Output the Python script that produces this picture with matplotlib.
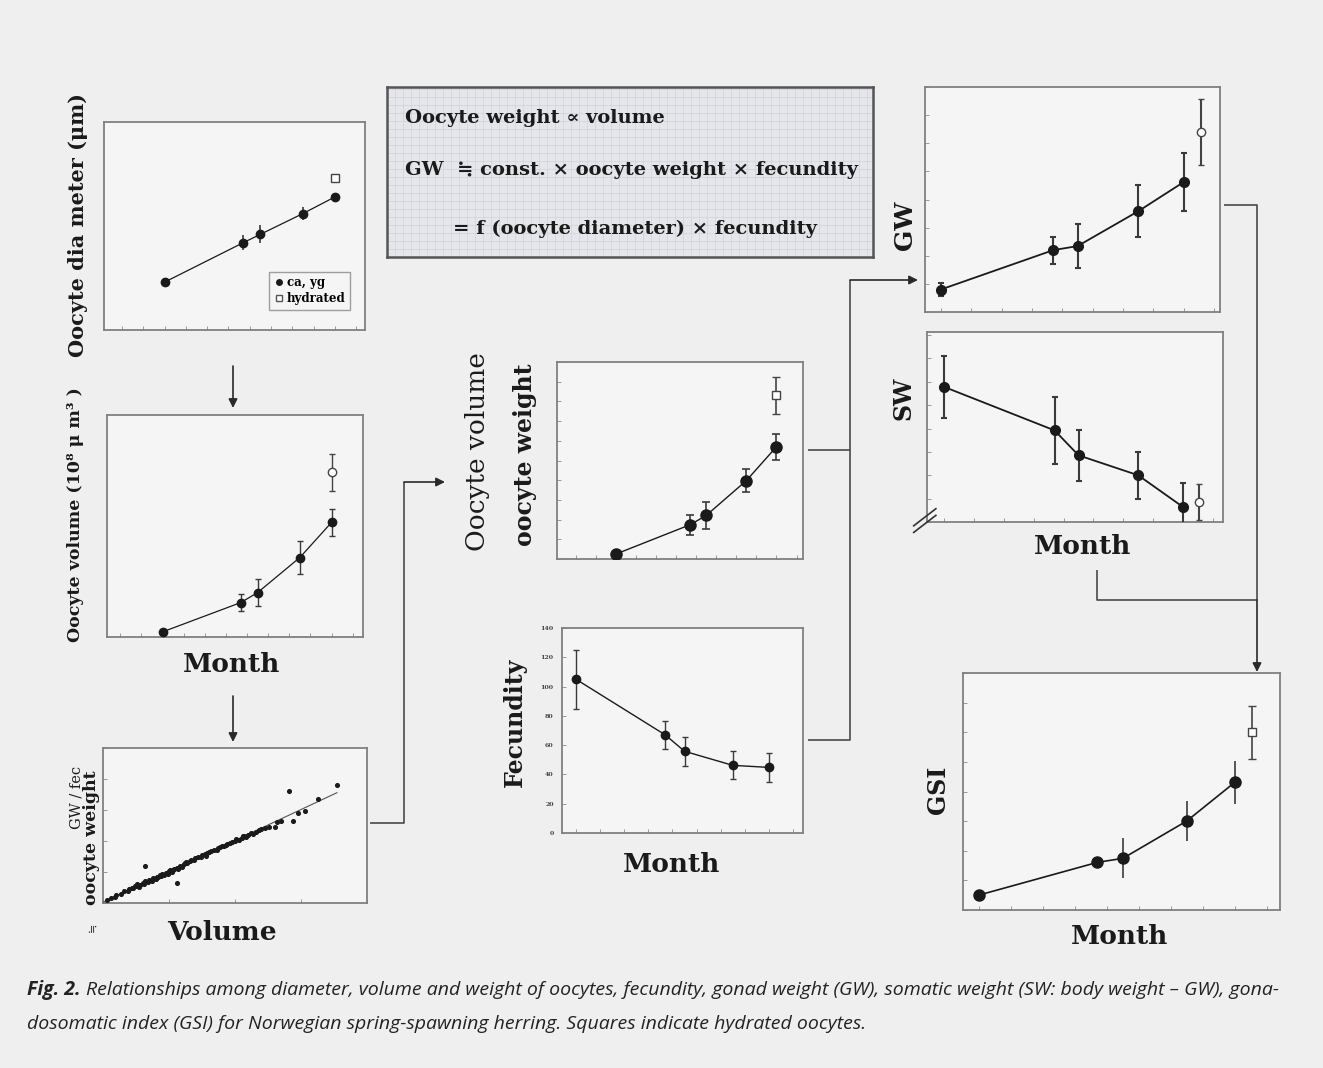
import numpy as np
import matplotlib
matplotlib.use('Agg')
import matplotlib.pyplot as plt
from matplotlib.lines import Line2D
from matplotlib.ticker import MultipleLocator

W, H = 1323, 1068

# sampling months (arbitrary month scale); hydrated samples are drawn beside the last one
months = [1.0, 4.7, 5.5, 7.5, 9.0]
hyd_month_left = 9.0
hyd_month_right = 9.55

diam = [23, 42, 46, 56, 64]
diam_err = [1.5, 3.7, 4.3, 3.2, 1.5]
diam_hyd = 73

vol = [2.3, 15.5, 20.0, 35.8, 51.6]
vol_err = [1.0, 3.8, 6.0, 7.5, 6.0]
vol_hyd = 74.2
vol_hyd_err = 8.3

vw = [2.5, 17.4, 22.1, 39.8, 57.0]
vw_err = [1.0, 5.0, 6.7, 6.0, 6.7]
vw_hyd = 83.1
vw_hyd_err = 9.3

fec = [105, 67, 55.8, 46.2, 44.8]
fec_err = [20, 9.6, 10, 9.6, 9.8]

gw = [10, 27.5, 29.3, 44.8, 57.8]
gw_err = [3, 6, 9.6, 11.5, 13]
gw_hyd = 80
gw_hyd_err = 14.5

sw = [71.1, 48.2, 35.1, 24.6, 7.9]
sw_err = [16.3, 17.5, 13.5, 12.3, 12.8]
sw_hyd = 10.5
sw_hyd_err = 9.6

gsi = [6.3, 20.1, 21.8, 37.6, 53.9]
gsi_err = [1.0, 1.5, 8.5, 8.5, 9.0]
gsi_hyd = 74.9
gsi_hyd_err = 11.3

# GW/fecundity against oocyte volume
scat_vol = [0.15, 0.3, 0.45, 0.5, 0.7, 0.8, 0.95, 1.0, 1.1, 1.15, 1.25, 1.3, 1.4, 1.5,
            1.55, 1.6, 1.7, 1.75, 1.85, 1.9, 2.0, 2.05, 2.1, 2.2, 2.25, 2.3, 2.4, 2.45,
            2.5, 2.6, 2.65, 2.7, 2.8, 2.85, 2.9, 3.0, 3.05, 3.1, 3.2, 3.3, 3.35, 3.45,
            3.5, 3.6, 3.7, 3.75, 3.85, 3.9, 4.0, 4.1, 4.2, 4.3, 4.35, 4.45, 4.5, 4.6,
            4.7, 4.8, 4.9, 5.0, 5.05, 5.15, 5.25, 5.3, 5.4, 5.5, 5.6, 5.7, 5.8, 5.9,
            6.0, 6.15, 6.3, 6.52, 6.6, 6.75, 7.06, 7.19, 7.4, 7.65, 8.16, 8.86,
            1.58, 2.81, 1.2, 1.35, 2.15, 2.55, 3.15, 3.95, 4.65, 5.35]
scat_wt = [0.2, 0.3, 0.4, 0.5, 0.55, 0.75, 0.8, 0.9, 1.0, 0.95, 1.1, 1.2, 1.15, 1.3,
           1.25, 1.4, 1.35, 1.5, 1.45, 1.6, 1.55, 1.7, 1.65, 1.75, 1.85, 1.8, 1.95, 1.9,
           2.05, 2.0, 2.15, 2.2, 2.25, 2.2, 2.4, 2.35, 2.5, 2.6, 2.55, 2.7, 2.75, 2.8,
           2.9, 2.95, 3.0, 3.1, 3.15, 3.05, 3.3, 3.35, 3.4, 3.45, 3.55, 3.6, 3.7, 3.65,
           3.8, 3.85, 3.95, 4.0, 4.1, 4.05, 4.2, 4.3, 4.25, 4.4, 4.5, 4.45, 4.6, 4.7,
           4.75, 4.85, 4.9, 4.9, 5.2, 5.3, 7.2, 5.27, 5.8, 5.96, 6.71, 7.63,
           2.37, 1.29, 1.1, 1.05, 1.8, 2.1, 2.65, 3.2, 3.75, 4.35]

SERIF = ['DejaVu Serif', 'DejaVu Sans', 'Noto Sans CJK JP']
SANS = ['Open Sans', 'DejaVu Sans']
BG = '#efefef'
PANEL = '#f5f5f5'
INK = '#1a1a1a'


def px_axes(fig, l, t, r, b):
    return fig.add_axes([l / W, 1 - b / H, (r - l) / W, (b - t) / H])


def panel(fig, box, xlim, ylim, ystep=None):
    ax = px_axes(fig, *box)
    ax.set_facecolor(PANEL)
    ax.set_xlim(*xlim)
    ax.set_ylim(*ylim)
    ax.xaxis.set_major_locator(MultipleLocator(1))
    if ystep:
        ax.yaxis.set_major_locator(MultipleLocator(ystep))
    else:
        ax.set_yticks([])
    ax.tick_params(direction='in', length=3, width=0.7, color='#999999',
                   labelbottom=False, labelleft=False)
    for s in ax.spines.values():
        s.set_color('#808080')
        s.set_linewidth(1.3)
    ax.set_zorder(2)
    return ax


def series(ax, y, err, capsize=2.5, ms=7, lw=1.1, elw=1.2):
    ax.plot(months, y, color=INK, lw=lw, zorder=3)
    ax.errorbar(months, y, yerr=err, fmt='o', color=INK, ecolor='#3a3a3a',
                elinewidth=elw, capsize=capsize, capthick=elw, ms=ms, zorder=4)


def hydrated(ax, x, y, err, marker, capsize=2.5, elw=1.2):
    ax.errorbar([x], [y], yerr=[err] if err else None, fmt=marker, mfc='white',
                mec='#444444', mew=1.0, ecolor='#444444', elinewidth=elw,
                capsize=capsize, capthick=elw, ms=6, zorder=4)


fig = plt.figure(figsize=(W / 100, H / 100), dpi=100, facecolor=BG)

# overlay in pixel coordinates for labels and connectors
ov = fig.add_axes([0, 0, 1, 1])
ov.set_xlim(0, W)
ov.set_ylim(H, 0)
ov.axis('off')
ov.set_zorder(1)

# --- oocyte diameter
ax = panel(fig, (104, 122, 365, 330), (-1.84, 10.41), (0, 100))
series(ax, diam, diam_err, capsize=0, ms=6, lw=0.9)
hydrated(ax, hyd_month_left, diam_hyd, None, 's')
handles = [Line2D([], [], marker='o', ls='', color=INK, ms=4),
           Line2D([], [], marker='s', ls='', mfc='white', mec='#555555', ms=5)]
leg = ax.legend(handles, ['ca, yg', 'hydrated'], loc='lower right',
                bbox_to_anchor=(0.965, 0.07), prop={'family': SERIF, 'size': 8.5, 'weight': 'bold'},
                frameon=True, fancybox=False, edgecolor='#888888', facecolor=PANEL,
                handletextpad=0.2, borderpad=0.35, labelspacing=0.25, handlelength=1.0)
leg.get_frame().set_linewidth(1.0)

# --- oocyte volume
ax = panel(fig, (107, 415, 363, 637), (-1.63, 10.49), (0, 100))
series(ax, vol, vol_err, capsize=2.5, ms=6, lw=0.9, elw=1.0)
hydrated(ax, hyd_month_left, vol_hyd, vol_hyd_err, 'o', elw=1.0)

# --- GW/fec vs volume scatter
ax = px_axes(fig, 103, 748, 367, 903)
ax.set_facecolor(PANEL)
ax.set_xlim(0, 10)
ax.set_ylim(0, 10)
ax.xaxis.set_major_locator(MultipleLocator(2.5))
ax.yaxis.set_major_locator(MultipleLocator(2))
ax.tick_params(direction='in', length=3, width=0.7, color='#999999',
               labelbottom=False, labelleft=False)
for s in ax.spines.values():
    s.set_color('#808080')
    s.set_linewidth(1.3)
ax.set_zorder(2)
ax.scatter(scat_vol, scat_wt, s=7, color=INK, zorder=4)
k, c = np.polyfit(scat_vol, scat_wt, 1)
xs = np.array([0.0, max(scat_vol)])
ax.plot(xs, k * xs + c, color='#555555', lw=0.8, zorder=3)

# --- formula box
bx = px_axes(fig, 387, 87, 873, 257)
bx.set_facecolor('#e4e6ec')
bx.set_xlim(0, 486)
bx.set_ylim(0, 170)
bx.set_xticks(np.arange(0, 486, 8))
bx.set_yticks(np.arange(0, 170, 8))
bx.grid(True, color='#cfd3dc', lw=0.5)
bx.tick_params(length=0, labelbottom=False, labelleft=False)
for s in bx.spines.values():
    s.set_color('#555555')
    s.set_linewidth(1.8)
bx.set_zorder(2)
bx.text(18, 139, 'Oocyte weight \u221d volume', fontsize=14, fontweight='bold',
        family=SERIF, color=INK, va='center')
bx.text(18, 87, 'GW  \u2252 const. \u00d7 oocyte weight \u00d7 fecundity', fontsize=14,
        fontweight='bold', family=SERIF, color=INK, va='center')
bx.text(66, 28, '= f (oocyte diameter) \u00d7 fecundity', fontsize=14,
        fontweight='bold', family=SERIF, color=INK, va='center')

# --- oocyte volume / weight
ax = panel(fig, (557, 362, 803, 559), (-1.93, 10.32), (0, 100), ystep=10)
series(ax, vw, vw_err, capsize=3, ms=8, lw=1.0)
hydrated(ax, hyd_month_left, vw_hyd, vw_hyd_err, 's', capsize=3)

# --- fecundity
ax = panel(fig, (562, 628, 803, 833), (0.42, 10.41), (0, 140), ystep=20)
ax.tick_params(axis='y', labelleft=True, labelsize=4.5, pad=6, labelcolor='#444444')
for t in ax.get_yticklabels():
    t.set_family(SERIF)
    t.set_fontweight('bold')
series(ax, fec, fec_err, capsize=2, ms=6, lw=1.0, elw=1.0)

# --- GW
ax = panel(fig, (925, 87, 1220, 312), (0.476, 10.19), (0, 100), ystep=12.5)
series(ax, gw, gw_err, capsize=2.5, ms=7, lw=1.3, elw=1.5)
hydrated(ax, hyd_month_right, gw_hyd, gw_hyd_err, 'o', elw=1.5)

# --- SW
ax = panel(fig, (927, 332, 1223, 522), (0.425, 10.34), (0, 100), ystep=12.3)
series(ax, sw, sw_err, capsize=2.5, ms=7, lw=1.3, elw=1.5)
hydrated(ax, hyd_month_right, sw_hyd, sw_hyd_err, 'o', elw=1.5)
for dy in (0.0, -0.035):
    ax.plot([-0.045, 0.03], [-0.02 + dy, 0.07 + dy], transform=ax.transAxes,
            color='#333333', lw=1.2, clip_on=False, zorder=5)

# --- GSI
ax = panel(fig, (963, 673, 1280, 910), (0.5, 10.41), (0, 100), ystep=12.5)
ax.plot(months, gsi, color=INK, lw=1.2, zorder=3)
ax.errorbar(months, gsi, yerr=gsi_err, fmt='o', color=INK, ecolor='#3a3a3a',
            elinewidth=1.2, capsize=0, ms=8, zorder=4)
hydrated(ax, hyd_month_right, gsi_hyd, gsi_hyd_err, 's', capsize=3)

# --- axis titles
lab = dict(family=SERIF, color=INK, ha='center', va='center')
ov.text(78, 225, 'Oocyte dia meter (\u03bcm)', rotation=90, fontsize=15, fontweight='bold', **lab)
ov.text(76, 515, 'Oocyte volume (10\u2078 \u03bc m\u00b3 )', rotation=90, fontsize=12.5,
        fontweight='bold', **lab)
ov.text(232, 665, 'Month', fontsize=19, fontweight='bold', **lab)
ov.text(76, 797, 'GW / fec', rotation=90, fontsize=10.5, **lab)
ov.text(92, 838, 'oocyte weight', rotation=90, fontsize=12.5, fontweight='bold', **lab)
ov.text(92, 927, '\u2252', rotation=90, fontsize=8, **lab)
ov.text(222, 933, 'Volume', fontsize=19, fontweight='bold', **lab)
ov.text(477, 452, 'Oocyte volume', rotation=90, fontsize=19, **lab)
ov.text(525, 455, 'oocyte weight', rotation=90, fontsize=17, fontweight='bold', **lab)
ov.text(515, 722, 'Fecundity', rotation=90, fontsize=17, fontweight='bold', **lab)
ov.text(672, 865, 'Month', fontsize=19, fontweight='bold', **lab)
ov.text(905, 225, 'GW', rotation=90, fontsize=18, fontweight='bold', **lab)
ov.text(903, 398, 'SW', rotation=90, fontsize=17, fontweight='bold', **lab)
ov.text(1083, 547, 'Month', fontsize=19, fontweight='bold', **lab)
ov.text(938, 790, 'GSI', rotation=90, fontsize=17, fontweight='bold', **lab)
ov.text(1120, 937, 'Month', fontsize=19, fontweight='bold', **lab)

# --- connectors
line = dict(color='#4a4a4a', lw=1.2, solid_capstyle='butt')
arrow = dict(arrowstyle='-|>', color='#2a2a2a', lw=1.2, mutation_scale=13, shrinkA=0, shrinkB=0)
ov.annotate('', xy=(233, 408), xytext=(233, 366), arrowprops=arrow)
ov.annotate('', xy=(233, 742), xytext=(233, 696), arrowprops=arrow)
ov.plot([370, 404, 404], [823, 823, 482], **line)
ov.annotate('', xy=(445, 482), xytext=(404, 482), arrowprops=arrow)
ov.plot([808, 850, 850], [450, 450, 280], **line)
ov.plot([808, 850, 850], [740, 740, 450], **line)
ov.annotate('', xy=(918, 280), xytext=(850, 280), arrowprops=arrow)
ov.plot([1224, 1257, 1257], [205, 205, 600], **line)
ov.plot([1097, 1097, 1257], [570, 600, 600], **line)
ov.annotate('', xy=(1257, 672), xytext=(1257, 600), arrowprops=arrow)

# --- caption
cap = dict(family=SANS, fontsize=14, style='italic', color='#222222', va='center')
ov.text(27, 990, 'Fig. 2.', fontweight='bold', **cap)
ov.text(86, 990, 'Relationships among diameter, volume and weight of oocytes, fecundity, '
        'gonad weight (GW), somatic weight (SW: body weight \u2013 GW), gona-', **cap)
ov.text(27, 1024, 'dosomatic index (GSI) for Norwegian spring-spawning herring. '
        'Squares indicate hydrated oocytes.', **cap)

fig.savefig('out.png', dpi=100, facecolor=BG)
